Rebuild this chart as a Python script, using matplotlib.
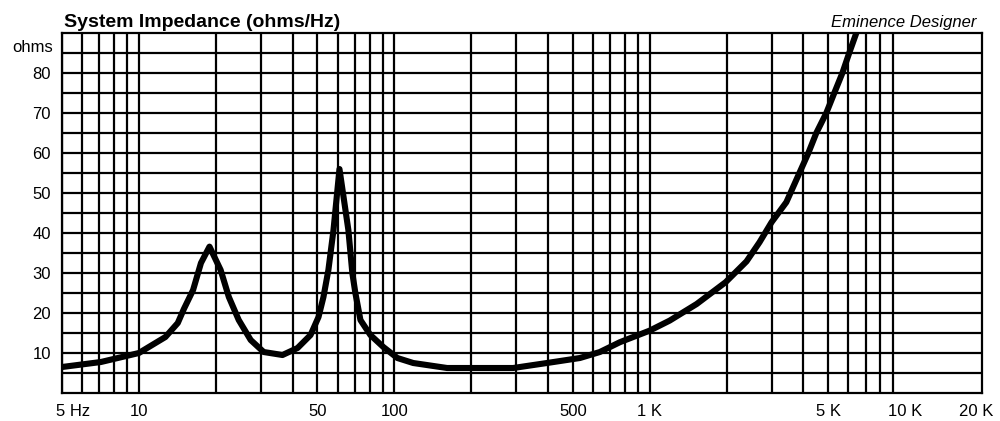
import matplotlib
matplotlib.use("Agg")
import matplotlib.pyplot as plt
import matplotlib.transforms as mtransforms
import numpy as np

plt.rcParams['font.family'] = ['Liberation Sans', 'DejaVu Sans']

# datos (frecuencia en Hz, impedancia en ohms)
freq = [5.0, 7.1, 10.0, 11.1, 12.7, 14.2, 15.0, 16.3, 17.5, 18.9, 20.9, 22.5,
        24.6, 27.4, 30.8, 36.5, 41.8, 47.0, 50.5, 52.8, 55.2, 57.8, 61.0, 66.1,
        68.5, 70.4, 73.7, 80.6, 90.6, 102.8, 118.6, 161, 217, 292, 396, 533,
        638, 764, 1000, 1197, 1527, 1982, 2393, 2692, 3000, 3427, 3855, 4179,
        4490, 4913, 5280, 5680, 6040, 6440, 6600]
ohms = [6.5, 7.75, 10.0, 11.75, 14.0, 17.5, 21.0, 25.75, 32.5, 36.6, 30.75, 24.0,
        18.25, 13.25, 10.25, 9.5, 11.25, 14.5, 19.0, 24.0, 30.75, 40.75, 56.0, 40.75,
        30.0, 25.0, 18.25, 14.5, 11.5, 8.75, 7.5, 6.25, 6.25, 6.25, 7.5, 8.75,
        10.25, 12.7, 15.6, 18.1, 22.25, 27.7, 32.9, 37.7, 42.7, 47.7, 55.0, 60.0,
        65.0, 70.0, 75.0, 80.0, 85.0, 90.0, 92.0]

x_ticks = [5, 10, 50, 100, 500, 1000, 5000, 10000, 20000]
x_labels = ['5 Hz', '10', '50', '100', '500', '1 K', '5 K', '10 K', '20 K']
y_ticks = [10, 20, 30, 40, 50, 60, 70, 80]

fig = plt.figure(figsize=(10, 4.21), dpi=100)
ax = fig.add_axes([0.062, 0.0665, 0.920, 0.855])

ax.set_xscale('log')
ax.set_xlim(5, 20000)
ax.set_ylim(0, 90)

# cuadricula: lineas verticales logaritmicas y horizontales cada 5 ohms
grid_x = [m * 10 ** e for e in range(0, 4) for m in range(1, 10)]
grid_x = [g for g in grid_x if 5 <= g <= 10000]
for g in grid_x:
    ax.axvline(g, color='black', lw=1.6, zorder=1)
for g in np.arange(5, 90, 5):
    ax.axhline(g, color='black', lw=1.6, zorder=1)

ax.plot(freq, ohms, color='black', lw=4.4, solid_joinstyle='round',
        solid_capstyle='round', zorder=3, clip_on=True)

ax.set_xticks(x_ticks)
ax.set_xticklabels(x_labels)
ax.xaxis.set_minor_locator(matplotlib.ticker.NullLocator())
ax.set_yticks(y_ticks)
ax.set_yticklabels([str(v) for v in y_ticks])
ax.tick_params(axis='both', length=0, labelsize=12)
ax.tick_params(axis='x', pad=8)
ax.tick_params(axis='y', pad=8)

lbls = ax.get_xticklabels()
lbls[0].set_horizontalalignment('left')
lbls[0].set_transform(lbls[0].get_transform() +
                      mtransforms.ScaledTranslation(-6 / 100, 0, fig.dpi_scale_trans))
lbls[-1].set_transform(lbls[-1].get_transform() +
                       mtransforms.ScaledTranslation(-6 / 100, 0, fig.dpi_scale_trans))

for s in ax.spines.values():
    s.set_linewidth(1.6)
    s.set_color('black')

ax.text(-0.0095, 86.5, 'ohms', transform=ax.get_yaxis_transform(),
        ha='right', va='center', fontsize=12)

fig.text(0.064, 0.935, 'System Impedance (ohms/Hz)', fontsize=14,
         fontweight='bold', ha='left', va='baseline')
fig.text(0.976, 0.935, 'Eminence Designer', fontsize=12, fontstyle='italic',
         ha='right', va='baseline')

fig.savefig('out.png', dpi=100)
